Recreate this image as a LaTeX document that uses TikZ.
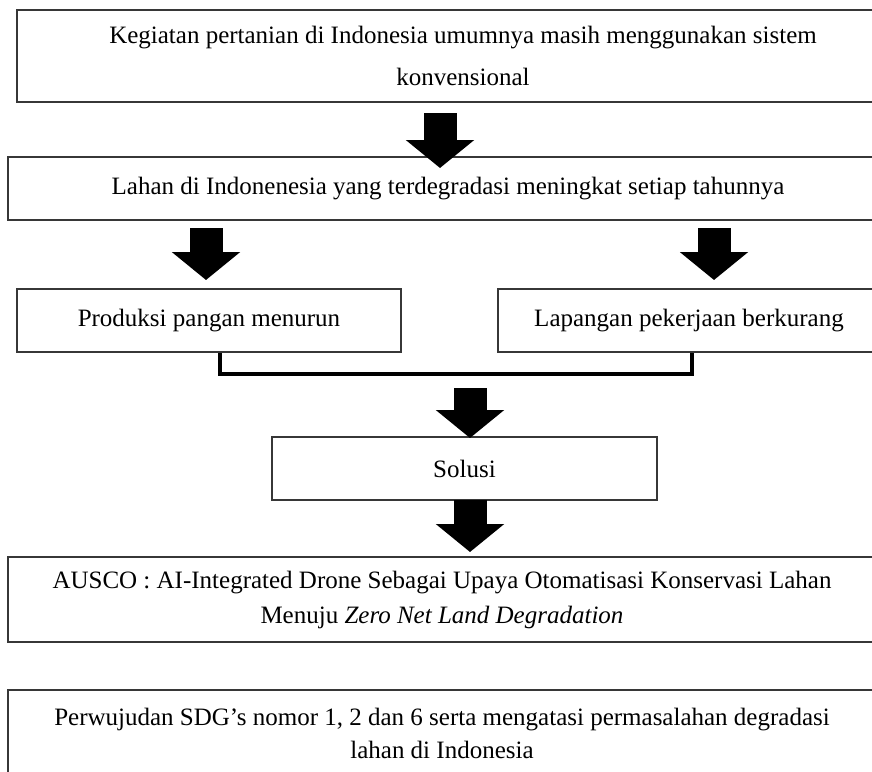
\documentclass[tikz,border=0pt]{standalone}
\usepackage{fontspec}
\setmainfont{Liberation Serif}
\usetikzlibrary{arrows.meta, calc}
\definecolor{boxgray}{RGB}{55,55,55}

\begin{document}
\begin{tikzpicture}[x=1pt, y=-1pt,
  box/.style={draw=boxgray, line width=1.5pt, align=center, inner sep=0pt,
    font=\fontsize{25}{34}\selectfont},
  blockarrow/.style={line width=33pt, -{Triangle[length=28pt, width=67pt]}},
  bracket/.style={line width=4pt}]
  \useasboundingbox (0,0) rectangle (872,771);

  % Problem boxes
  \node[box, font=\fontsize{25}{42}\selectfont, minimum width=892pt, minimum height=92pt]
    (kegiatan) at (463,56) {Kegiatan pertanian di Indonesia umumnya masih menggunakan sistem\\konvensional};
  \node[box, minimum width=880pt, minimum height=63pt]
    (lahan) at (448,188.5) {Lahan di Indonenesia yang terdegradasi meningkat setiap tahunnya};

  % Impacts
  \node[box, minimum width=384pt, minimum height=63pt]
    (produksi) at (209,320.5) {Produksi pangan menurun};
  \node[box, minimum width=382pt, minimum height=63pt]
    (lapangan) at (689,320.5) {Lapangan pekerjaan berkurang};
  \draw[bracket] ([xshift=11pt]produksi.south) -- ++(0,21) -| ([xshift=3pt]lapangan.south);

  % Solution
  \node[box, minimum width=385pt, minimum height=63pt]
    (solusi) at (464.5,468.5) {Solusi};
  \node[box, font=\fontsize{25}{35}\selectfont, minimum width=868pt, minimum height=85pt]
    (ausco) at (442,599.5) {AUSCO : AI-Integrated Drone Sebagai Upaya Otomatisasi Konservasi Lahan\\Menuju \textit{Zero Net Land Degradation}};
  \node[box, font=\fontsize{25}{33}\selectfont, minimum width=868pt, minimum height=86pt]
    (perwujudan) at (442,733) {Perwujudan SDG’s nomor 1, 2 dan 6 serta mengatasi permasalahan degradasi\\lahan di Indonesia};

  % Block arrows
  \coordinate (a1s) at (440,113);
  \coordinate (a1e) at (440,168);
  \coordinate (a2s) at (206,228);
  \coordinate (a2e) at (206,280);
  \coordinate (a3s) at (714,228);
  \coordinate (a3e) at (714,280);
  \coordinate (a4s) at (470,388);
  \coordinate (a4e) at (470,438);
  \coordinate (a5s) at (470,500);
  \coordinate (a5e) at (470,552);
  \foreach \s/\e in {a1s/a1e, a2s/a2e, a3s/a3e, a4s/a4e, a5s/a5e}
    \draw[blockarrow] (\s) -- (\e);
\end{tikzpicture}
\end{document}
